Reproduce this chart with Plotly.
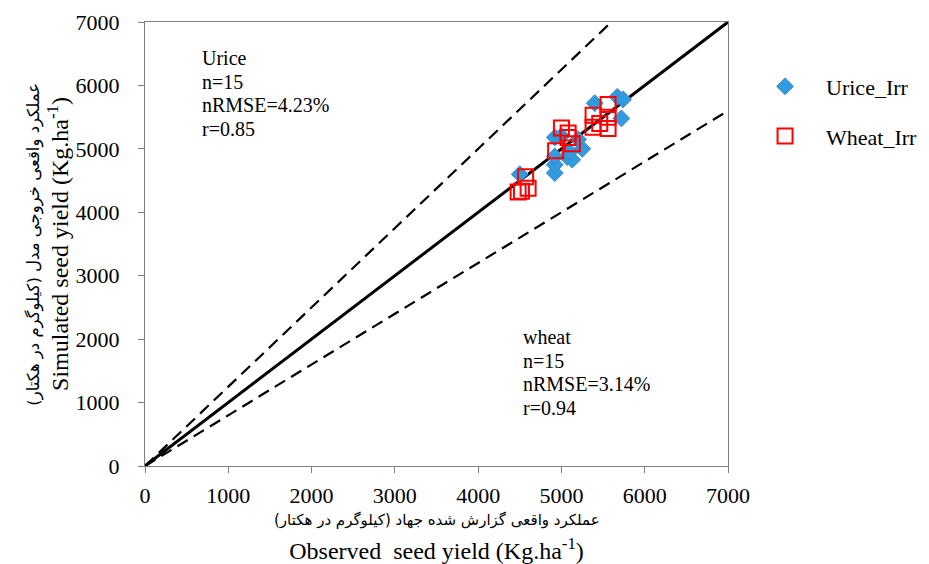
import plotly.graph_objects as go

# Data
urice_obs = [4500, 4920, 4920, 4920, 4920, 5000, 5070, 5130, 5100, 5250, 5200, 5400, 5670, 5740, 5720]
urice_sim = [4600, 4620, 4750, 4880, 5180, 5200, 4870, 4830, 4950, 5000, 5150, 5720, 5820, 5780, 5480]
wheat_obs = [4480, 4520, 4600, 4570, 4930, 5000, 5080, 5130, 5080, 5380, 5380, 5560, 5560, 5560, 5460]
wheat_sim = [4320, 4330, 4380, 4560, 4970, 5330, 5250, 5080, 5180, 5530, 5340, 5700, 5500, 5320, 5400]

line_x = [0, 7000]
upper_x = [0, 5600]
upper_y = [0, 7000]
lower_x = [0, 7000]
lower_y = [0, 5600]
ticks = [0, 1000, 2000, 3000, 4000, 5000, 6000, 7000]

urice_lines = ["Urice", "n=15", "nRMSE=4.23%", "r=0.85"]
wheat_lines = ["wheat", "n=15", "nRMSE=3.14%", "r=0.94"]
x_title_en = "Observed  seed yield (Kg.ha<sup>-1</sup>)"
y_title_en = "Simulated seed yield (Kg.ha<sup>-1</sup>)"
x_title_fa = "عملکرد واقعی گزارش شده جهاد (کیلوگرم در هکتار)\u200f"
y_title_fa = "عملکرد واقعی خروجی مدل (کیلوگرم در هکتار)\u200f"

font_main = "Liberation Serif"

fig = go.Figure()
fig.add_trace(go.Scatter(x=upper_x, y=upper_y, mode="lines", showlegend=False,
                         line=dict(color="black", width=2.2, dash="12px,7px"), hoverinfo="skip"))
fig.add_trace(go.Scatter(x=lower_x, y=lower_y, mode="lines", showlegend=False,
                         line=dict(color="black", width=2.2, dash="12px,7px"), hoverinfo="skip"))
fig.add_trace(go.Scatter(x=line_x, y=line_x, mode="lines", showlegend=False,
                         line=dict(color="black", width=3), hoverinfo="skip"))
fig.add_trace(go.Scatter(x=urice_obs, y=urice_sim, mode="markers", name="Urice_Irr",
                         legendgroup="a",
                         marker=dict(symbol="diamond", size=13, color="#2f9be0",
                                     line=dict(color="#4a86c0", width=1))))
fig.add_trace(go.Scatter(x=wheat_obs, y=wheat_sim, mode="markers", name="Wheat_Irr",
                         legendgroup="b",
                         marker=dict(symbol="square-open", size=15, color="#ff0000",
                                     line=dict(color="#ff0000", width=2))))

for i, t in enumerate(urice_lines):
    fig.add_annotation(x=660, y=6430, xref="x", yref="y", text=t, showarrow=False,
                       xanchor="left", yanchor="middle", align="left", yshift=-23.5 * i,
                       font=dict(family=font_main, size=20, color="black"))
for i, t in enumerate(wheat_lines):
    fig.add_annotation(x=4510, y=2030, xref="x", yref="y", text=t, showarrow=False,
                       xanchor="left", yanchor="middle", align="left", yshift=-23.5 * i,
                       font=dict(family=font_main, size=20, color="black"))

fig.add_annotation(x=0.5, y=-0.097, xref="paper", yref="paper", text=x_title_fa, showarrow=False,
                   xanchor="center", yanchor="top",
                   font=dict(family="DejaVu Sans", size=15, color="black"))
fig.add_annotation(x=-0.191, y=0.5, xref="paper", yref="paper", text=y_title_fa, showarrow=False,
                   xanchor="center", yanchor="middle", textangle=-90,
                   font=dict(family="DejaVu Sans", size=16.5, color="black"))

axis_common = dict(range=[0, 7000], tickvals=ticks, showgrid=False, zeroline=False,
                   showline=True, linecolor="#7f7f7f", linewidth=1, mirror=True,
                   ticks="outside", ticklen=6, tickcolor="#7f7f7f", automargin=False,
                   tickfont=dict(family=font_main, size=22, color="black"))

fig.update_layout(
    width=929, height=564,
    margin=dict(l=137, r=209, t=14, b=106),
    paper_bgcolor="white", plot_bgcolor="white",
    xaxis=dict(**axis_common, ticklabelstandoff=4,
               title=dict(text=x_title_en, standoff=34,
                          font=dict(family=font_main, size=24, color="black"))),
    yaxis=dict(**axis_common, ticklabelstandoff=14,
               title=dict(text=y_title_en, standoff=0,
                          font=dict(family=font_main, size=24, color="black"))),
    legend=dict(xref="container", yref="container", x=0.7923, y=0.898,
                xanchor="left", yanchor="top",
                traceorder="grouped", tracegroupgap=18, itemwidth=72,
                font=dict(family=font_main, size=22, color="black"),
                bgcolor="rgba(0,0,0,0)"),
    showlegend=True,
)

fig.write_html("out.html")
